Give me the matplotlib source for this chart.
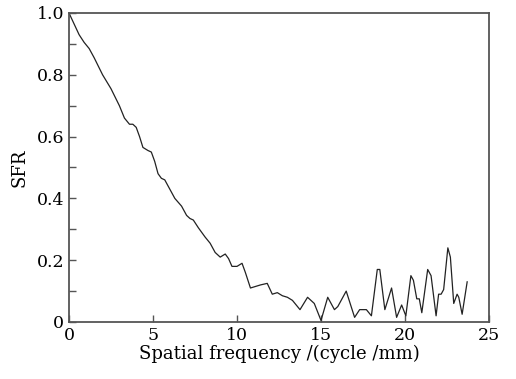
import numpy as np
import matplotlib.pyplot as plt

# spatial frequency (cycle/mm) and SFR values
freq = [0, 0.3, 0.6, 0.9, 1.2, 1.5, 2.0, 2.5, 3.0, 3.3, 3.6, 3.8, 4.0, 4.2, 4.4,
        4.7, 4.9, 5.1, 5.3, 5.5, 5.7, 6.0, 6.3, 6.7, 7.0, 7.2, 7.4, 7.7, 8.1, 8.4,
        8.7, 9.0, 9.3, 9.5, 9.7, 10.0, 10.3, 10.5, 10.8, 11.1, 11.4, 11.8, 12.1,
        12.4, 12.7, 13.0, 13.3, 13.75, 14.2, 14.6, 15.0, 15.4, 15.8, 16.0, 16.5,
        17.0, 17.3, 17.7, 18.0, 18.35, 18.5, 18.8, 19.2, 19.5, 19.8, 20.05, 20.35,
        20.5, 20.7, 20.85, 21.0, 21.35, 21.55, 21.85, 22.0, 22.15, 22.3, 22.55,
        22.7, 22.9, 23.1, 23.2, 23.4, 23.7]
sfr = [1.0, 0.965, 0.93, 0.905, 0.885, 0.855, 0.80, 0.755, 0.70, 0.66, 0.64,
       0.64, 0.63, 0.60, 0.565, 0.555, 0.55, 0.52, 0.48, 0.465, 0.46, 0.43, 0.40,
       0.375, 0.345, 0.335, 0.33, 0.305, 0.275, 0.255, 0.225, 0.21, 0.22, 0.205,
       0.18, 0.18, 0.19, 0.16, 0.11, 0.115, 0.12, 0.125, 0.09, 0.095, 0.085, 0.08,
       0.07, 0.04, 0.08, 0.06, 0.005, 0.08, 0.04, 0.05, 0.10, 0.015, 0.04, 0.04,
       0.02, 0.17, 0.17, 0.04, 0.11, 0.015, 0.055, 0.02, 0.15, 0.135, 0.075,
       0.075, 0.03, 0.17, 0.15, 0.02, 0.09, 0.09, 0.105, 0.24, 0.21, 0.06, 0.09,
       0.08, 0.025, 0.13]

xticks = [0, 5, 10, 15, 20, 25]
yticks = [0, 0.2, 0.4, 0.6, 0.8, 1.0]
ylabels = ['0', '0.2', '0.4', '0.6', '0.8', '1.0']

plt.rcParams['font.family'] = 'DejaVu Serif'

fig = plt.figure(figsize=(5.16, 3.79), dpi=100)
ax = fig.add_axes([0.1337, 0.1504, 0.814, 0.8153])

ax.plot(freq, sfr, color='#222222', lw=0.9)

ax.set_xlim(0, 25)
ax.set_ylim(0, 1.0)
ax.set_xticks(xticks)
ax.set_xticklabels([str(t) for t in xticks])
ax.set_yticks(yticks)
ax.set_yticklabels(ylabels)
ax.set_yticks(np.arange(0.1, 1.0, 0.2), minor=True)
ax.tick_params(direction='in', labelsize=12.5, color='#555555', length=5, width=1)
ax.tick_params(which='minor', direction='in', length=5, width=1, color='#555555')

for s in ax.spines.values():
    s.set_color('#555555')
    s.set_linewidth(1.3)

ax.set_xlabel('Spatial frequency /(cycle /mm)', fontsize=13, labelpad=1)
ax.set_ylabel('SFR', fontsize=13, labelpad=6)

fig.savefig('out.png', dpi=100)
